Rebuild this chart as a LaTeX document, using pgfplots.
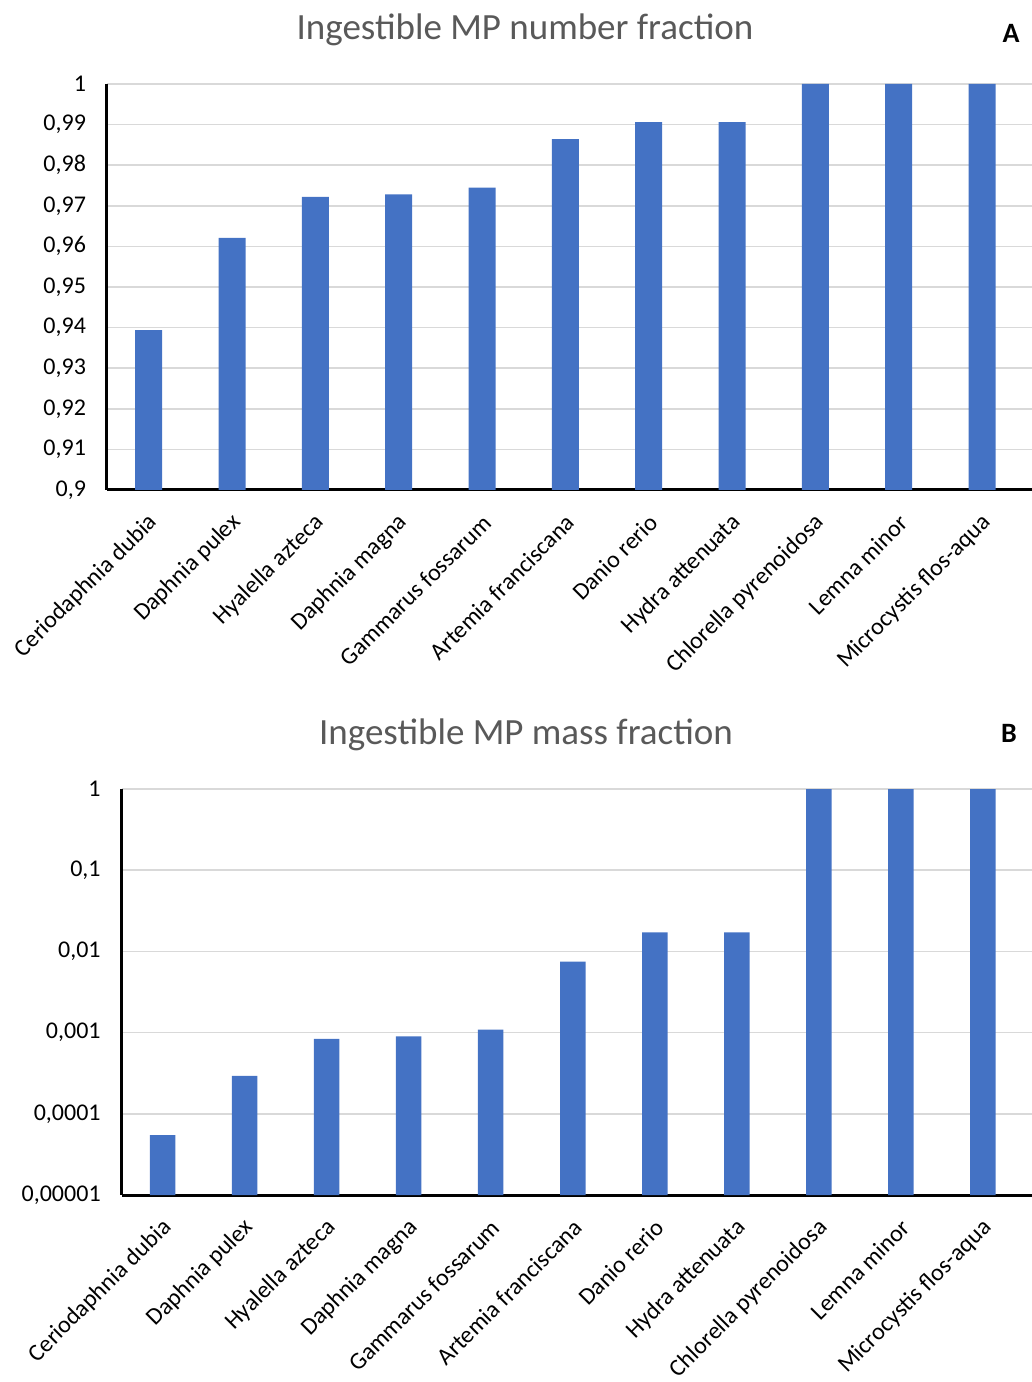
\documentclass[border=0pt]{standalone}
\usepackage{fontspec}
\setmainfont{Carlito}
\usepackage{pgfplots}
\pgfplotsset{compat=1.18}
\definecolor{barblue}{HTML}{4472C4}
\definecolor{gridgray}{HTML}{D9D9D9}
\definecolor{titlegray}{HTML}{595959}

\pgfplotsset{
  mybars/.style={
    scale only axis,
    axis lines=left,
    axis line style={-, line width=1.5pt, black},
    ymajorgrids, yminorgrids=false,
    grid style={gridgray, line width=0.75pt},
    major tick length=0pt,
    minor tick length=0pt,
    minor tick num=0,
    xmin=-0.5, xmax=10.6,
    xtick={0,...,10},
    xticklabels={Ceriodaphnia dubia,Daphnia pulex,Hyalella azteca,Daphnia magna,Gammarus fossarum,Artemia franciscana,Danio rerio,Hydra attenuata,Chlorella pyrenoidosa,Lemna minor,Microcystis flos-aqua},
    xticklabel style={font=\fontsize{12}{14}\selectfont, xshift=5pt, yshift=-12pt, rotate=45, anchor=east},
    yticklabel style={font=\fontsize{12}{14}\selectfont, xshift=-7pt},
    enlargelimits=false,
    clip=false,
  }
}

\begin{document}
\begin{tikzpicture}
\useasboundingbox (0pt,0pt) rectangle (516pt,691pt);

% Panel A
\node[text=titlegray, font=\fontsize{18.5}{22}\selectfont] at (262.5pt,676pt) {Ingestible MP number fraction};
\node[font=\fontsize{14}{16}\selectfont\bfseries] at (505.5pt,674.5pt) {A};

\begin{axis}[mybars,
  at={(53.5pt,446pt)}, anchor=south west,
  width=462.5pt, height=203pt,
  ymin=0.9, ymax=1,
  ytick={0.9,0.91,0.92,0.93,0.94,0.95,0.96,0.97,0.98,0.99,1},
  yticklabels={{0,9},{0,91},{0,92},{0,93},{0,94},{0,95},{0,96},{0,97},{0,98},{0,99},1},
]
\addplot[ybar, bar width=13.5pt, fill=barblue, draw=none] coordinates {
  (0,0.9394) (1,0.9621) (2,0.9722) (3,0.9728) (4,0.9745) (5,0.9864)
  (6,0.9906) (7,0.9906) (8,1.0) (9,1.0) (10,1.0)
};
\end{axis}

% Panel B
\node[text=titlegray, font=\fontsize{18.5}{22}\selectfont] at (263pt,323.5pt) {Ingestible MP mass fraction};
\node[font=\fontsize{14}{16}\selectfont\bfseries] at (504.5pt,324.5pt) {B};

\begin{axis}[mybars,
  at={(60.85pt,93.5pt)}, anchor=south west,
  width=455.15pt, height=203pt,
  ymode=log, log origin y=infty,
  ymin=1e-5, ymax=1,
  ytick={1e-5,1e-4,1e-3,1e-2,1e-1,1},
  minor ytick={},
  yticklabels={{0,00001},{0,0001},{0,001},{0,01},{0,1},1},
]
\addplot[ybar, bar width=12.75pt, fill=barblue, draw=none] coordinates {
  (0,5.48e-5) (1,2.94e-4) (2,8.4e-4) (3,9.0e-4) (4,1.087e-3) (5,7.46e-3)
  (6,0.01717) (7,0.0172) (8,1.0) (9,1.0) (10,1.0)
};
\end{axis}
\end{tikzpicture}
\end{document}
